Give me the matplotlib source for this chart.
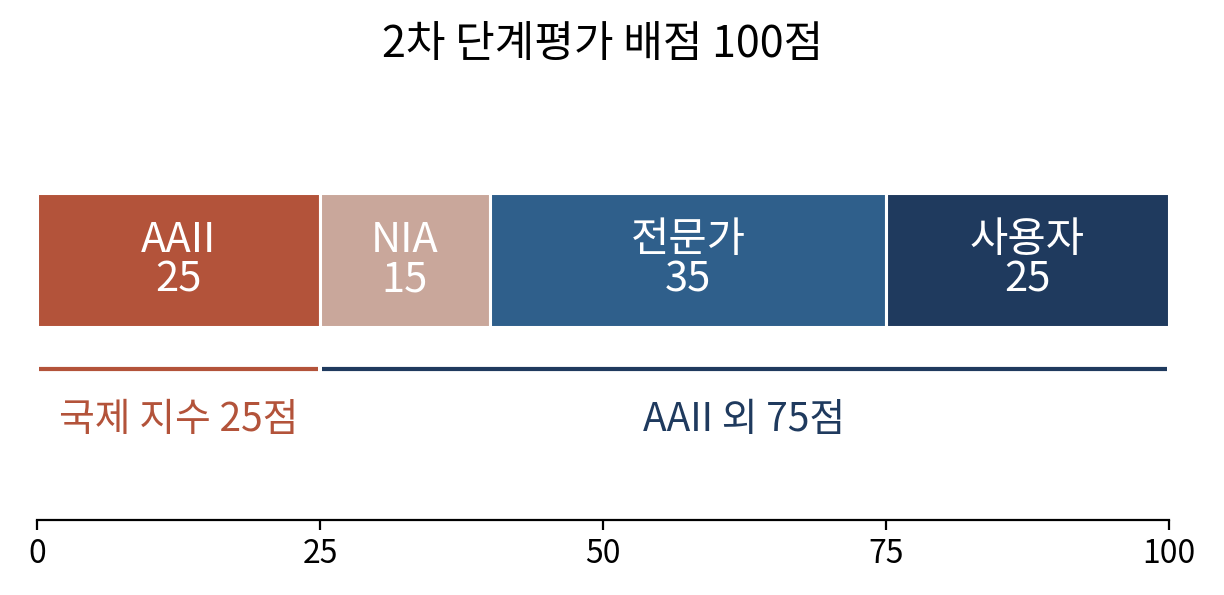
import matplotlib
matplotlib.use("Agg")
import matplotlib.pyplot as plt

plt.rcParams['font.family'] = ['Noto Sans CJK KR', 'DejaVu Sans']

# 배점 구성
parts = ['AAII', 'NIA', '전문가', '사용자']
scores = [25, 15, 35, 25]
colors = ['#B3533A', '#C9A79B', '#2F5F8B', '#1F3A5E']

# 묶음 (국제 지수 / AAII 외)
groups = ['국제 지수 25점', 'AAII 외 75점']
group_start = [0, 25]
group_end = [25, 100]
group_colors = ['#B3533A', '#1F3A5E']

ticks = [0, 25, 50, 75, 100]
title = '2차 단계평가 배점 100점'

fig = plt.figure(figsize=(6.12, 2.975), dpi=200)
ax = fig.add_axes([37 / 1224, 75 / 595, 1132 / 1224, 420 / 595])

left = 0
for name, val, c in zip(parts, scores, colors):
    ax.barh(260, val, left=left, height=134, color=c, edgecolor='white', linewidth=1.1)
    ax.text(left + val / 2, 260, f'{name}\n{val}', ha='center', va='center',
            color='white', fontsize=15, linespacing=0.95)
    left += val

gap = 0.2
for g, s, e, c in zip(groups, group_start, group_end, group_colors):
    ax.plot([s + gap, e - gap], [151, 151], color=c, linewidth=1.5, solid_capstyle='butt')
    ax.text((s + e) / 2, 100, g, ha='center', va='center', color=c, fontsize=14)

ax.set_xlim(0, 100)
ax.set_ylim(0, 420)
ax.set_xticks(ticks)
ax.set_xticklabels([str(t) for t in ticks], fontsize=11.5)
ax.set_yticks([])
for s in ['left', 'right', 'top']:
    ax.spines[s].set_visible(False)
ax.spines['bottom'].set_linewidth(0.8)
ax.tick_params(axis='x', length=3.5, width=0.8, pad=3)

fig.text(603 / 1224, 1 - 45 / 595, title, ha='center', va='center', fontsize=15.5)

fig.savefig('out.png', dpi=200)
